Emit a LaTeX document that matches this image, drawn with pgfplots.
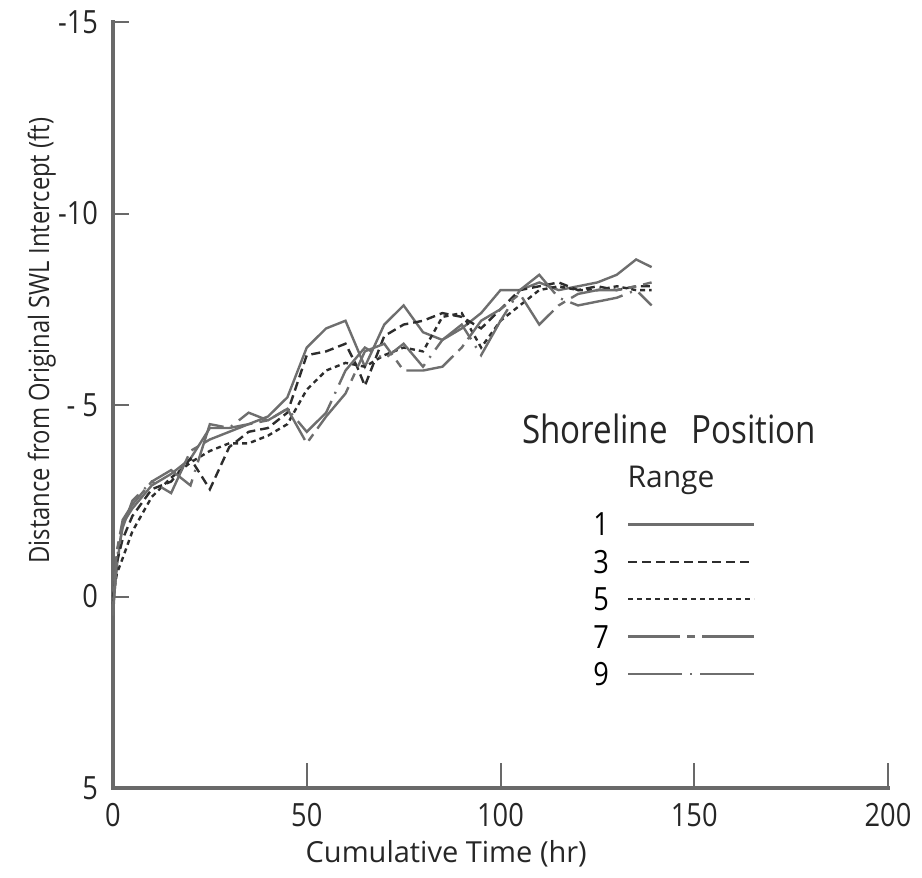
\documentclass[border=0pt]{standalone}
\usepackage{fontspec}
\setmainfont{Open Sans}[FakeStretch=0.85]
\newfontfamily\widefont{Open Sans}
\usepackage{pgfplots}
\pgfplotsset{compat=1.18}
\definecolor{axgray}{RGB}{105,105,105}
\definecolor{lgray}{RGB}{110,110,110}
\definecolor{dgray}{RGB}{45,45,45}
\tikzset{
 r1/.style={lgray, line width=1.2pt, solid},
 r3/.style={dgray, line width=1.2pt, dash pattern=on 4.5pt off 2.5pt},
 r5/.style={dgray, line width=1.2pt, dash pattern=on 2.5pt off 2pt},
 r7/.style={lgray, line width=1.2pt, dash pattern=on 26pt off 3.5pt on 4pt off 3.5pt},
 r9/.style={lgray, line width=1.2pt, dash pattern=on 27pt off 4pt on 1pt off 4pt},
}
\begin{document}
\begin{tikzpicture}
\begin{axis}[
  scale only axis, width=387.5pt, height=383pt,
  xmin=0, xmax=200, ymin=-15, ymax=5, y dir=reverse,
  axis lines*=left,
  axis line style={axgray, line width=2.4pt, line cap=rect},
  tick align=inside,
  major tick length=8pt,
  tick style={axgray, line width=1pt},
  xtick={0,50,100,150,200}, xticklabels={0,50,100,150,200},
  ytick={-15,-10,-5,0,5}, yticklabels={-15,-10,- 5,0,5},
  xtick style={/pgfplots/major tick length=12.5pt},
  ticklabel style={font=\fontsize{16}{16}\selectfont, text=black!85},
  xticklabel style={yshift=-4pt},
  yticklabel style={xshift=-4pt},
  xlabel={Cumulative Time (hr)},
  ylabel={Distance from Original SWL Intercept (ft)},
  label style={font=\fontsize{14}{14}\selectfont, text=black!85},
  xlabel style={font=\widefont\fontsize{14.5}{14.5}\selectfont, at={(axis description cs:0.43,-0.086)}, anchor=center},
  ylabel style={at={(axis description cs:-0.092,0.584)}, anchor=center},
  legend plot pos=right,
  legend cell align=left,
  legend style={at={(axis cs:122.3,-2.3)}, anchor=north west, draw=none, fill=none,
    font=\fontsize{16}{16}\selectfont, row sep=7.2pt,
    nodes={inner sep=0pt, text height=11.5pt, text depth=0pt}},
  legend image code/.code={\draw[#1] (0pt,0pt) -- (63pt,0pt);},
  every axis legend/.append style={column sep=9pt},
  clip=false,
]
% Range 1
\addplot[r1] coordinates {(0,0.3) (1,-0.8) (2.5,-1.9) (5,-2.3) (10,-2.9) (15,-3.2) (20,-3.6) (25,-4.4) (30,-4.4) (35,-4.5) (40,-4.7) (45,-5.2) (50,-6.5) (55,-7.0) (60,-7.2) (65,-6.0) (70,-7.1) (75,-7.6) (80,-6.9) (85,-6.7) (90,-7.0) (95,-7.4) (100,-8.0) (105,-8.0) (110,-8.2) (115,-8.0) (120,-8.1) (125,-8.2) (130,-8.4) (135,-8.8) (139,-8.6)};
\addlegendentry{1}
% Range 3
\addplot[r3] coordinates {(0,0.2) (1,-0.9) (2.5,-1.5) (5,-2.1) (10,-2.8) (15,-3.0) (20,-3.6) (25,-2.8) (30,-3.9) (35,-4.3) (40,-4.4) (45,-4.8) (50,-6.3) (55,-6.4) (60,-6.6) (63,-6.0) (65,-5.5) (70,-6.8) (75,-7.1) (80,-7.2) (85,-7.4) (90,-7.3) (95,-7.0) (100,-7.5) (105,-8.0) (110,-8.1) (115,-8.2) (120,-8.0) (125,-8.1) (130,-8.0) (135,-8.1) (139,-8.1)};
\addlegendentry{3}
% Range 5
\addplot[r5] coordinates {(0,0.0) (1,-0.6) (2.5,-1.0) (5,-1.7) (10,-2.6) (15,-3.1) (20,-3.5) (25,-3.8) (30,-4.0) (35,-4.0) (40,-4.2) (45,-4.5) (50,-5.4) (55,-5.9) (60,-6.1) (65,-6.0) (70,-6.3) (75,-6.5) (80,-6.4) (85,-7.3) (90,-7.4) (95,-6.5) (100,-7.2) (105,-7.6) (110,-8.0) (115,-8.1) (120,-8.0) (125,-8.0) (130,-8.1) (135,-8.0) (139,-8.0)};
\addlegendentry{5}
% Range 7
\addplot[r7] coordinates {(0,0.3) (1,-1.2) (2.5,-2.0) (5,-2.4) (10,-3.0) (15,-2.7) (20,-3.8) (25,-4.1) (30,-4.3) (35,-4.5) (40,-4.6) (45,-4.9) (50,-4.0) (55,-4.7) (60,-5.3) (65,-6.4) (70,-6.6) (75,-5.9) (80,-5.9) (85,-6.0) (90,-6.5) (95,-7.2) (100,-7.5) (105,-7.9) (110,-7.1) (115,-7.6) (120,-7.9) (125,-8.0) (130,-8.0) (135,-8.1) (139,-8.2)};
\addlegendentry{7}
% Range 9
\addplot[r9] coordinates {(0,0.5) (1,-1.0) (2.5,-1.8) (5,-2.5) (10,-3.0) (15,-3.3) (20,-2.9) (25,-4.5) (30,-4.4) (35,-4.8) (40,-4.6) (45,-4.9) (50,-4.3) (55,-4.8) (60,-5.9) (65,-6.5) (70,-6.2) (75,-6.6) (80,-6.0) (85,-6.7) (90,-7.1) (95,-6.3) (100,-7.2) (105,-8.0) (110,-8.4) (115,-7.8) (120,-7.6) (125,-7.7) (130,-7.8) (135,-8.0) (139,-7.6)};
\addlegendentry{9}
\node[anchor=base, font=\fontsize{19.5}{20}\selectfont, text=black!85] at (axis cs:143.5,-4.0) {Shoreline\hspace{0.6em}Position};
\node[anchor=base, font=\widefont\fontsize{15}{15}\selectfont, text=black!85] at (axis cs:144,-2.85) {Range};
\end{axis}
\pgfresetboundingbox
\path ([shift={(-56.5pt,-45pt)}]current axis.south west) rectangle ([shift={(17pt,11pt)}]current axis.north east);
\end{tikzpicture}
\end{document}
